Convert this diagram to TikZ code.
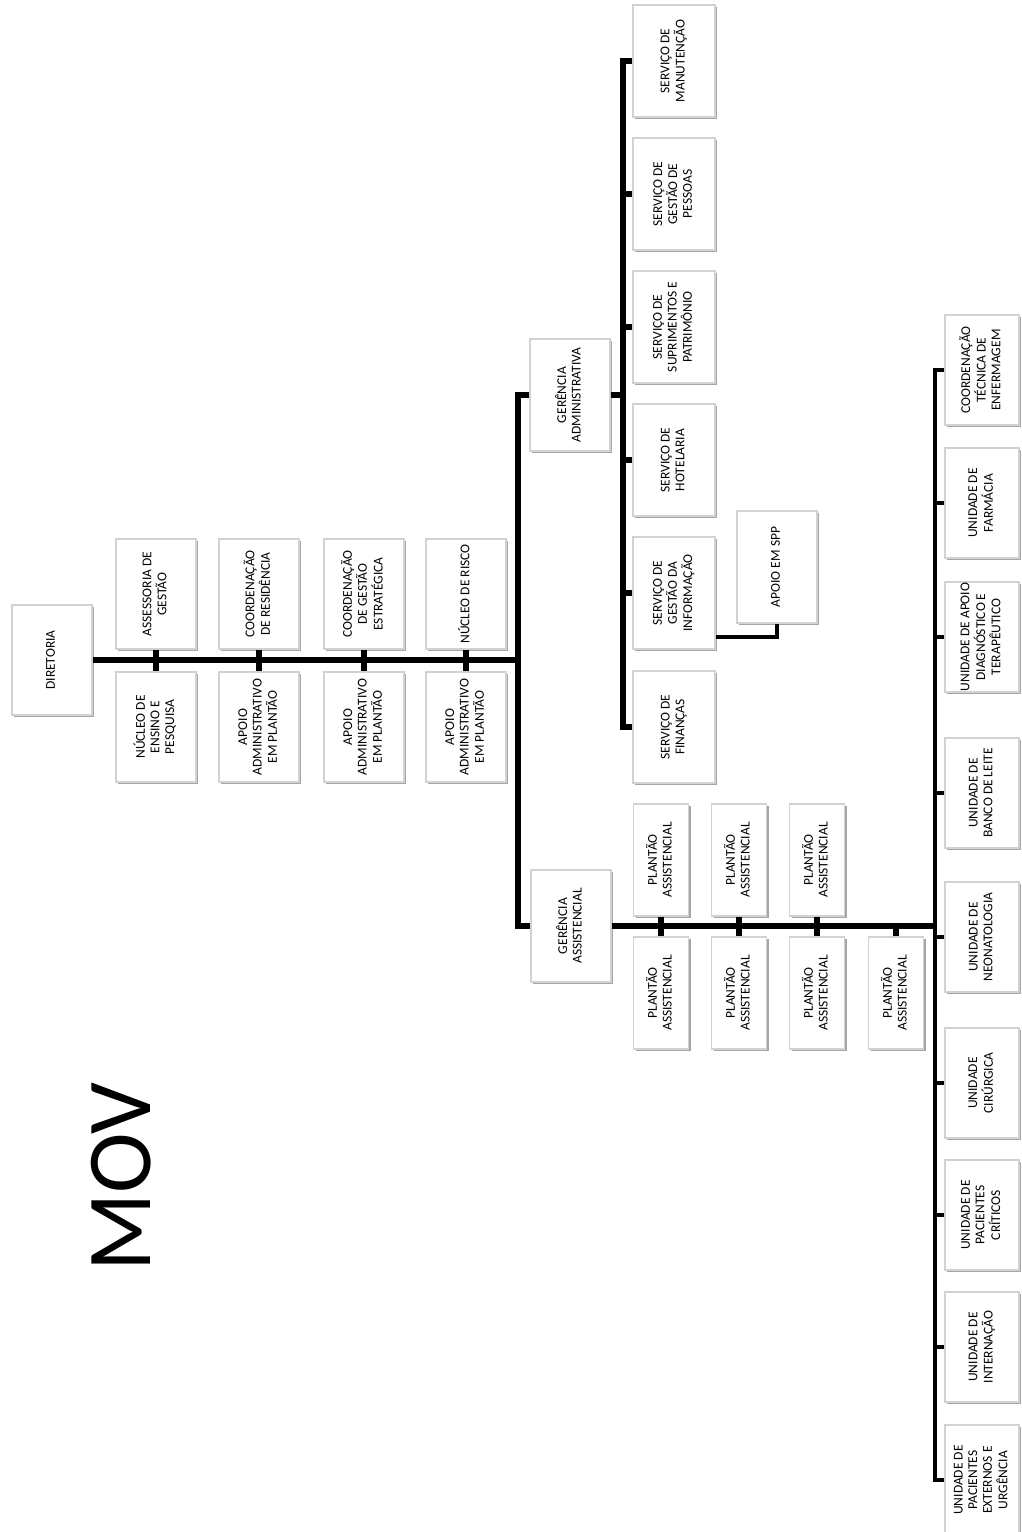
\documentclass[tikz,border=0pt]{standalone}
\usepackage{fontspec}
\setmainfont{Carlito}
\usepackage{graphicx}
\usetikzlibrary{shadows}

\newcommand{\vlabel}[1]{\rotatebox{90}{\begin{tabular}{@{}c@{}}#1\end{tabular}}}

\tikzset{
  orgbox/.style={
    rectangle, draw=gray!35, line width=0.35mm, fill=white,
    drop shadow={shadow xshift=0.6mm, shadow yshift=-0.6mm, fill=gray!70, opacity=1},
    inner sep=0pt, minimum width=24mm, minimum height=33mm,
    font=\fontsize{11.5}{12.5}\selectfont
  },
  servbox/.style={orgbox, minimum width=24.6mm, minimum height=33.6mm},
  shiftbox/.style={orgbox, minimum width=16.5mm, minimum height=33.6mm},
  unitbox/.style={orgbox, minimum width=22.2mm},
  link/.style={line width=1.6mm, draw=black},
  unitlink/.style={line width=1.3mm, draw=black},
  thinlink/.style={line width=1mm, draw=black},
  title/.style={rotate=90, anchor=base, font=\fontsize{78}{80}\selectfont}
}

\begin{document}
\begin{tikzpicture}[x=0.3mm, y=-0.3mm]
  \useasboundingbox (0,0) rectangle (1021,1532);

  \node[orgbox] (dir) at (52,660) {\vlabel{DIRETORIA}};

  \node[orgbox] (ass) at (156,594) {\vlabel{ASSESSORIA DE\\GESTÃO}};
  \node[orgbox] (cres) at (259,594) {\vlabel{COORDENAÇÃO\\DE RESIDÊNCIA}};
  \node[orgbox] (cge) at (364,594) {\vlabel{COORDENAÇÃO\\DE GESTÃO\\ESTRATÉGICA}};
  \node[orgbox] (nrisco) at (466,594) {\vlabel{NÚCLEO DE RISCO}};
  \node[orgbox] (nep) at (156,727) {\vlabel{NÚCLEO DE\\ENSINO E\\PESQUISA}};
  \node[orgbox] (apoio1) at (259,727) {\vlabel{APOIO\\ADMINISTRATIVO\\EM PLANTÃO}};
  \node[orgbox] (apoio2) at (364,727) {\vlabel{APOIO\\ADMINISTRATIVO\\EM PLANTÃO}};
  \node[orgbox] (apoio3) at (466,727) {\vlabel{APOIO\\ADMINISTRATIVO\\EM PLANTÃO}};

  \node[servbox, minimum width=24mm] (gadm) at (570,395) {\vlabel{GERÊNCIA\\ADMINISTRATIVA}};
  \node[servbox, minimum width=24mm] (gass) at (571,926) {\vlabel{GERÊNCIA\\ASSISTENCIAL}};

  \node[servbox] (manut) at (674,61) {\vlabel{SERVIÇO DE\\MANUTENÇÃO}};
  \node[servbox] (pessoas) at (674,194) {\vlabel{SERVIÇO DE\\GESTÃO DE\\PESSOAS}};
  \node[servbox] (suprim) at (674,327) {\vlabel{SERVIÇO DE\\SUPRIMENTOS E\\PATRIMÔNIO}};
  \node[servbox] (hotel) at (674,460) {\vlabel{SERVIÇO DE\\HOTELARIA}};
  \node[servbox] (sgi) at (674,593) {\vlabel{SERVIÇO DE\\GESTÃO DA\\INFORMAÇÃO}};
  \node[servbox] (financas) at (674,727) {\vlabel{SERVIÇO DE\\FINANÇAS}};
  \node[servbox, minimum width=24mm] (spp) at (777,567) {\vlabel{APOIO EM SPP}};

  \node[shiftbox] (plantA1) at (661,860) {\vlabel{PLANTÃO\\ASSISTENCIAL}};
  \node[shiftbox] (plantA2) at (739,860) {\vlabel{PLANTÃO\\ASSISTENCIAL}};
  \node[shiftbox] (plantA3) at (817,860) {\vlabel{PLANTÃO\\ASSISTENCIAL}};
  \node[shiftbox] (plantB1) at (661,993) {\vlabel{PLANTÃO\\ASSISTENCIAL}};
  \node[shiftbox] (plantB2) at (739,993) {\vlabel{PLANTÃO\\ASSISTENCIAL}};
  \node[shiftbox] (plantB3) at (817,993) {\vlabel{PLANTÃO\\ASSISTENCIAL}};
  \node[shiftbox] (plantB4) at (896,993) {\vlabel{PLANTÃO\\ASSISTENCIAL}};

  \node[unitbox] (enferm) at (982,370) {\vlabel{COORDENAÇÃO\\TÉCNICA DE\\ENFERMAGEM}};
  \node[unitbox] (farmacia) at (982,503) {\vlabel{UNIDADE DE\\FARMÁCIA}};
  \node[unitbox] (diag) at (982,637) {\vlabel{UNIDADE DE APOIO\\DIAGNÓSTICO E\\TERAPÊUTICO}};
  \node[unitbox] (leite) at (982,793) {\vlabel{UNIDADE DE\\BANCO DE LEITE}};
  \node[unitbox] (neo) at (982,937) {\vlabel{UNIDADE DE\\NEONATOLOGIA}};
  \node[unitbox] (cirurg) at (982,1083) {\vlabel{UNIDADE\\CIRÚRGICA}};
  \node[unitbox] (criticos) at (982,1215) {\vlabel{UNIDADE DE\\PACIENTES\\CRÍTICOS}};
  \node[unitbox] (intern) at (982,1347) {\vlabel{UNIDADE DE\\INTERNAÇÃO}};
  \node[unitbox] (externos) at (982,1480) {\vlabel{UNIDADE DE\\PACIENTES\\EXTERNOS E\\URGÊNCIA}};

  \node[title] (mov) at (150,1177) {MOV};

  \coordinate (trunk) at (518,660);
  \coordinate (abar) at (623,395);
  \coordinate (ubar) at (935,926);

  \draw[link] (dir.east) -- (trunk);
  \draw[link] (gadm.west) -| (trunk) |- (gass.west);
  \draw[link] (ass.south) -- (nep.north);
  \draw[link] (cres.south) -- (apoio1.north);
  \draw[link] (cge.south) -- (apoio2.north);
  \draw[link] (nrisco.south) -- (apoio3.north);

  \draw[link] (gadm.east) -- (abar);
  \draw[link] (manut.west) -| (abar) |- (financas.west);
  \draw[link] (pessoas.west) -- (pessoas.west -| abar);
  \draw[link] (suprim.west) -- (suprim.west -| abar);
  \draw[link] (hotel.west) -- (hotel.west -| abar);
  \draw[link] (sgi.west) -- (sgi.west -| abar);
  \draw[thinlink] ([yshift=-13.2mm]sgi.east) -| (spp.south);

  \draw[link] (gass.east) -- (ubar);
  \draw[link] (plantA1.south) -- (plantB1.north);
  \draw[link] (plantA2.south) -- (plantB2.north);
  \draw[link] (plantA3.south) -- (plantB3.north);
  \draw[link] (plantB4.north) -- (plantB4.north |- ubar);

  \draw[unitlink] (enferm.west) -| (ubar) |- (externos.west);
  \draw[unitlink] (farmacia.west) -- (farmacia.west -| ubar);
  \draw[unitlink] (diag.west) -- (diag.west -| ubar);
  \draw[unitlink] (leite.west) -- (leite.west -| ubar);
  \draw[unitlink] (neo.west) -- (neo.west -| ubar);
  \draw[unitlink] (cirurg.west) -- (cirurg.west -| ubar);
  \draw[unitlink] (criticos.west) -- (criticos.west -| ubar);
  \draw[unitlink] (intern.west) -- (intern.west -| ubar);
\end{tikzpicture}
\end{document}
